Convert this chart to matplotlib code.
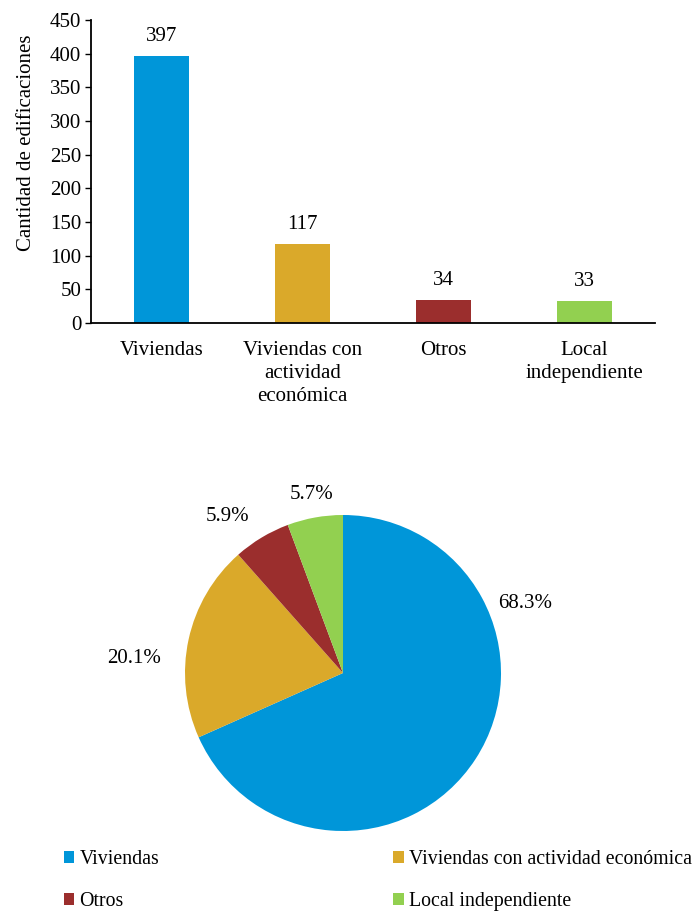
import matplotlib
matplotlib.use("Agg")
import matplotlib.pyplot as plt

plt.rcParams['font.family'] = ['Liberation Serif', 'DejaVu Serif']

categories = ["Viviendas", "Viviendas con actividad económica", "Otros", "Local independiente"]
tick_labels = ["Viviendas", "Viviendas con\nactividad\neconómica", "Otros", "Local\nindependiente"]
values = [397, 117, 34, 33]
pct_labels = ["68.3%", "20.1%", "5.9%", "5.7%"]
colors = ["#0096D9", "#DAA92A", "#9B2E2D", "#92D050"]
# label positions for pie (in pie radius units)
pct_pos = [(1.15, 0.44), (-1.32, 0.09), (-0.73, 0.99), (-0.20, 1.13)]

FS = 15

fig = plt.figure(figsize=(6.94, 9.13), dpi=100)

# Bar chart
ax = fig.add_axes([91/694, 1-323/913, (655-91)/694, (323-20)/913])
x = range(len(values))
ax.bar(x, values, width=0.39, color=colors)
ax.set_ylim(0, 450)
ax.set_xlim(-0.5, len(values)-0.5)
ax.set_yticks(range(0, 451, 50))
ax.set_xticks(list(x))
ax.set_xticklabels(tick_labels, fontsize=FS, linespacing=1.27)
ax.tick_params(axis='x', length=0, pad=13)
ax.tick_params(axis='y', labelsize=FS, length=4, direction='out', width=1, pad=3)
for s in ['top', 'right']:
    ax.spines[s].set_visible(False)
for s in ['left', 'bottom']:
    ax.spines[s].set_linewidth(1.3)
ax.set_ylabel("Cantidad de edificaciones", fontsize=15, labelpad=0)
ax.yaxis.set_label_coords(-0.098, 0.594)
for xi, v in zip(x, values):
    ax.annotate(str(v), (xi, v), xytext=(0, 14), textcoords='offset points',
                ha='center', va='center', fontsize=FS)

# Pie chart
R = 158
half = 1.4 * R
cx, cy = 343, 673
pax = fig.add_axes([(cx-half)/694, 1-(cy+half)/913, 2*half/694, 2*half/913])
wedges, _ = pax.pie(values, colors=colors, startangle=90, counterclock=False, radius=1)
pax.set_xlim(-1.4, 1.4)
pax.set_ylim(-1.4, 1.4)
pax.set_aspect('equal')
for lab, (px, py) in zip(pct_labels, pct_pos):
    pax.text(px, py, lab, ha='center', va='center', fontsize=FS)

# legend filled row-wise: reorder for matplotlib's column-major fill
order = [0, 2, 1, 3]
leg = fig.legend([wedges[i] for i in order], [categories[i] for i in order],
                 ncol=2, loc='upper left',
                 bbox_to_anchor=(64/694, 1-850/913), frameon=False,
                 fontsize=14.3, handlelength=0.52, handleheight=0.52,
                 handletextpad=0.25, labelspacing=1.15, columnspacing=11.8,
                 borderpad=0, borderaxespad=0)

fig.savefig("out.png", dpi=100)
